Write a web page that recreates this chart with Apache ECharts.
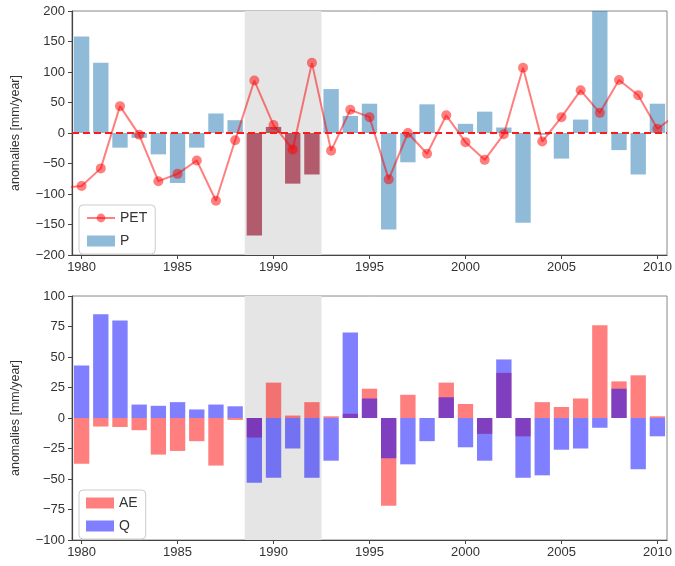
<!DOCTYPE html>
<html>
<head>
<meta charset="utf-8">
<script src="https://cdn.jsdelivr.net/npm/echarts@6/dist/echarts.min.js"></script>
<style>
  html, body { margin: 0; padding: 0; background: #fff; }
  #main { width: 675px; height: 566px; }
</style>
</head>
<body>
<div id="main"></div>
<script>
// years on the bar axis
const years = [];
for (let y = 1980; y <= 2010; y++) years.push(String(y));

// top panel: precipitation anomaly (bars) and PET anomaly (line)
const P = [158, 115, -24, -8, -35, -82, -24, 32, 21, -168,
  10, -83, -68, 72, 28, 48, -158, -48, 47, 0,
  15, 35, 9, -147, -3, -42, 22, 230, -28, -68,
  48];
const petYears = [1979, 1980, 1981, 1982, 1983, 1984, 1985, 1986, 1987, 1988, 1989,
  1990, 1991, 1992, 1993, 1994, 1995, 1996, 1997, 1998, 1999,
  2000, 2001, 2002, 2003, 2004, 2005, 2006, 2007, 2008, 2009,
  2010, 2011];
const PET = [-90, -87, -58, 44, -3, -79, -67, -45, -111, -12, 86,
  13, -27, 115, -29, 38, 26, -76, 0, -34, 29,
  -15, -44, -2, 107, -14, 26, 70, 33, 87, 62,
  7, 30];

// bottom panel: actual evaporation and discharge anomalies
const AE = [-37.5, -7, -7.4, -10, -30, -27, -19, -39, -1.6, -16,
  29, 2, 13, 1.4, 3.5, 24, -72, 19, 0, 29,
  11.5, -13, 37, -15, 13, 9, 16, 76, 30, 35,
  1.4];
const Q = [43, 85, 80, 11, 10, 13, 7, 11, 9.6, -53,
  -49, -25, -49, -35, 70, 16, -33, -38, -19, 17,
  -24, -35, 48, -49, -47, -26, -25, -8, 24, -42,
  -15];

// shaded dry period
const spanStart = 1988.5;
const spanEnd = 1992.5;

const FONT = 'Liberation Sans, Arial, sans-serif';
const minus = v => String(v).replace('-', '\u2212');

function catAxis(gridIndex) {
  return {
    type: 'category',
    gridIndex: gridIndex,
    data: years,
    boundaryGap: true,
    axisLine: { onZero: false, lineStyle: { color: '#444', width: 1.2 } },
    axisTick: { show: true, alignWithLabel: true, interval: 4, length: 4, lineStyle: { color: '#444' } },
    axisLabel: { interval: 4, color: '#333', fontSize: 13, fontFamily: FONT, margin: 6 },
    splitLine: { show: false }
  };
}

function valXAxis(gridIndex) {
  return { type: 'value', gridIndex: gridIndex, min: 1979.5, max: 2010.5, show: false };
}

function valYAxis(gridIndex, min, max, step) {
  return {
    type: 'value',
    gridIndex: gridIndex,
    min: min,
    max: max,
    interval: step,
    name: 'anomalies [mm/year]',
    nameLocation: 'middle',
    nameRotate: 90,
    nameGap: 50,
    nameTextStyle: { color: '#333', fontSize: 12.5, fontFamily: FONT },
    axisLine: { show: true, onZero: false, lineStyle: { color: '#444', width: 1.2 } },
    axisTick: { show: true, length: 4, lineStyle: { color: '#444' } },
    axisLabel: { color: '#333', fontSize: 13, fontFamily: FONT, margin: 7, formatter: minus },
    splitLine: { show: false }
  };
}

const pBars = P.map((v, i) => {
  const yr = 1980 + i;
  if (yr > spanStart && yr < spanEnd) {
    return { value: v, itemStyle: { color: '#b15b6c' } };
  }
  return v;
});

const petLine = petYears.map((y, i) => [y, PET[i]]);

const shade = {
  silent: true,
  itemStyle: { color: '#e5e5e5' },
  data: [[{ xAxis: spanStart }, { xAxis: spanEnd }]]
};

const legendBase = {
  orient: 'vertical',
  left: 79,
  itemWidth: 28,
  itemHeight: 11,
  itemGap: 9,
  padding: [6, 8, 6, 7],
  borderColor: '#ccc',
  borderWidth: 1,
  borderRadius: 4,
  backgroundColor: 'rgba(255,255,255,0.85)',
  textStyle: { color: '#333', fontSize: 14, fontFamily: FONT }
};

const chart = echarts.init(document.getElementById('main'));

chart.setOption({
  animation: false,
  backgroundColor: '#fff',
  grid: [
    { left: 72, right: 8, top: 11, height: 244, show: true, borderColor: '#888', borderWidth: 1 },
    { left: 72, right: 8, top: 296, height: 244, show: true, borderColor: '#888', borderWidth: 1 }
  ],
  xAxis: [catAxis(0), valXAxis(0), catAxis(1), valXAxis(1)],
  yAxis: [valYAxis(0, -200, 200, 50), valYAxis(1, -100, 100, 25)],
  legend: [
    Object.assign({}, legendBase, {
      top: 205,
      data: [{ name: 'PET' }, { name: 'P', icon: 'rect' }]
    }),
    Object.assign({}, legendBase, {
      top: 490,
      data: [{ name: 'AE', icon: 'rect' }, { name: 'Q', icon: 'rect' }]
    })
  ],
  series: [
    {
      name: 'shadeTop',
      type: 'line',
      xAxisIndex: 1,
      yAxisIndex: 0,
      data: [],
      markArea: shade
    },
    {
      name: 'P',
      type: 'bar',
      xAxisIndex: 0,
      yAxisIndex: 0,
      barWidth: '80%',
      itemStyle: { color: 'rgba(31,119,180,0.5)' },
      data: pBars
    },
    {
      name: 'PET',
      type: 'line',
      xAxisIndex: 1,
      yAxisIndex: 0,
      clip: true,
      symbol: 'circle',
      symbolSize: 10,
      lineStyle: { color: 'rgba(255,0,0,0.5)', width: 2 },
      itemStyle: { color: 'rgba(255,0,0,0.5)' },
      data: petLine,
      markLine: {
        silent: true,
        symbol: 'none',
        label: { show: false },
        lineStyle: { color: '#ff1a1a', type: [7, 4], width: 2 },
        data: [{ yAxis: 0 }]
      }
    },
    {
      name: 'shadeBottom',
      type: 'line',
      xAxisIndex: 3,
      yAxisIndex: 1,
      data: [],
      markArea: shade
    },
    {
      name: 'AE',
      type: 'bar',
      xAxisIndex: 2,
      yAxisIndex: 1,
      barWidth: '80%',
      barGap: '-100%',
      itemStyle: { color: 'rgba(255,0,0,0.5)' },
      data: AE
    },
    {
      name: 'Q',
      type: 'bar',
      xAxisIndex: 2,
      yAxisIndex: 1,
      barWidth: '80%',
      barGap: '-100%',
      itemStyle: { color: 'rgba(0,0,255,0.5)' },
      data: Q
    }
  ]
});
</script>
</body>
</html>
